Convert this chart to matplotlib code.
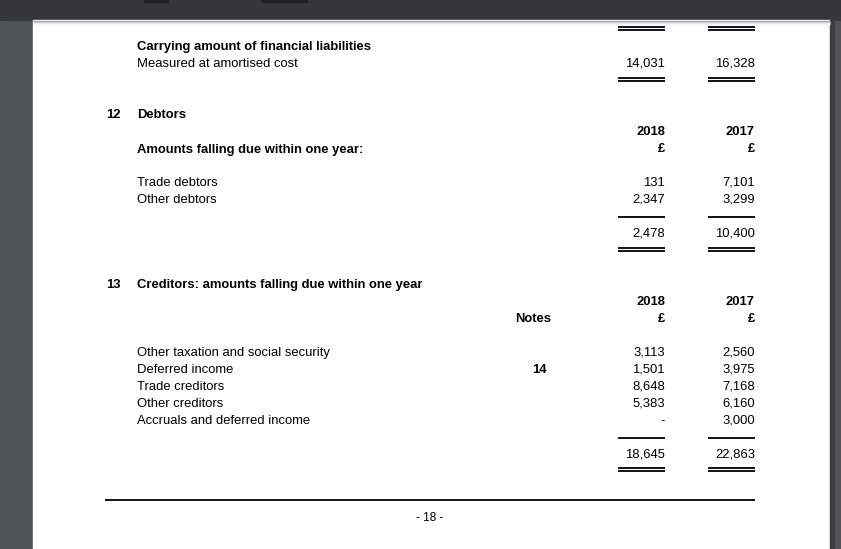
import matplotlib.pyplot as plt

plt.rcParams['font.family'] = ['Liberation Sans', 'DejaVu Sans']

# page content
carry_title = "Carrying amount of financial liabilities"
carry_label = "Measured at amortised cost"
carry_values = ["14,031", "16,328"]

years = ["2018", "2017"]

debtors_labels = ["Trade debtors", "Other debtors"]
debtors_2018 = ["131", "2,347"]
debtors_2017 = ["7,101", "3,299"]
debtors_total = ["2,478", "10,400"]

creditors_labels = ["Other taxation and social security", "Deferred income",
                    "Trade creditors", "Other creditors",
                    "Accruals and deferred income"]
creditors_notes = ["", "14", "", "", ""]
creditors_2018 = ["3,113", "1,501", "8,648", "5,383", "-"]
creditors_2017 = ["2,560", "3,975", "7,168", "6,160", "3,000"]
creditors_total = ["18,645", "22,863"]

page_number = "- 18 -"

W, H = 841, 549
fig = plt.figure(figsize=(W / 100, H / 100), dpi=100)
ax = fig.add_axes([0, 0, 1, 1])
ax.set_xlim(0, W)
ax.set_ylim(H, 0)
ax.axis('off')

# viewer background and page
fig.patch.set_facecolor('#4f5457')
ax.add_patch(plt.Rectangle((0, 0), W, 20, color='#33373a', zorder=0))
ax.add_patch(plt.Rectangle((33, 20), 797, H - 20, color='white', zorder=1))
ax.add_patch(plt.Rectangle((830, 20), 4, H - 20, color='#3a3e41', zorder=1))
ax.add_patch(plt.Rectangle((144, 0), 24, 2, color='#1e2124', zorder=2))
ax.add_patch(plt.Rectangle((262, 0), 45, 2, color='#1e2124', zorder=2))
for i, c in enumerate(['#9a9a9a', '#cfcfcf', '#e8e8e8', '#f4f4f4']):
    ax.hlines(20.5 + i, 33, 830, color=c, lw=1, zorder=2)

fs = 9.4
dy = 1.8  # small nudge so the text sits where the reference has it
x_label = 137
x_num = 106
x_2018 = 665
x_2017 = 755
col_w = 47


def txt(x, y, s, bold=False, ha='left'):
    ax.text(x, y + dy, s, fontsize=fs, ha=ha, va='center',
            fontweight='bold' if bold else 'normal', color='black', zorder=3)


def rule(y, double=False):
    for xr in (x_2018, x_2017):
        ax.hlines(y, xr - col_w, xr, color='black', lw=1.3, zorder=3)
        if double:
            ax.hlines(y + 3, xr - col_w, xr, color='black', lw=1.3, zorder=3)


# carried over part
rule(27, double=True)
txt(x_label, 45, carry_title, bold=True)
txt(x_label, 62, carry_label)
txt(x_2018, 62, carry_values[0], ha='right')
txt(x_2017, 62, carry_values[1], ha='right')
rule(78, double=True)

# note 12
txt(x_num, 113, "12", bold=True)
txt(x_label, 113, "Debtors", bold=True)
txt(x_2018, 130, years[0], bold=True, ha='right')
txt(x_2017, 130, years[1], bold=True, ha='right')
txt(x_2018, 147, "£", bold=True, ha='right')
txt(x_2017, 147, "£", bold=True, ha='right')
txt(x_label, 148, "Amounts falling due within one year:", bold=True)
for i, lab in enumerate(debtors_labels):
    y = 181 + 17 * i
    txt(x_label, y, lab)
    txt(x_2018, y, debtors_2018[i], ha='right')
    txt(x_2017, y, debtors_2017[i], ha='right')
rule(217)
txt(x_2018, 232, debtors_total[0], ha='right')
txt(x_2017, 232, debtors_total[1], ha='right')
rule(248, double=True)

# note 13
txt(x_num, 283, "13", bold=True)
txt(x_label, 283, "Creditors: amounts falling due within one year", bold=True)
txt(x_2018, 300, years[0], bold=True, ha='right')
txt(x_2017, 300, years[1], bold=True, ha='right')
txt(551, 317, "Notes", bold=True, ha='right')
txt(x_2018, 317, "£", bold=True, ha='right')
txt(x_2017, 317, "£", bold=True, ha='right')
for i, lab in enumerate(creditors_labels):
    y = 351 + 17 * i
    txt(x_label, y, lab)
    if creditors_notes[i]:
        txt(539, y, creditors_notes[i], bold=True, ha='center')
    txt(x_2018, y, creditors_2018[i], ha='right')
    txt(x_2017, y, creditors_2017[i], ha='right')
rule(438)
txt(x_2018, 453, creditors_total[0], ha='right')
txt(x_2017, 453, creditors_total[1], ha='right')
rule(468, double=True)

# footer
ax.hlines(500, 105, 755, color='black', lw=1.3, zorder=3)
ax.text(430, 516 + dy, page_number, fontsize=8.5, ha='center', va='center', zorder=3)

fig.savefig('out.png', dpi=100, facecolor=fig.get_facecolor())
